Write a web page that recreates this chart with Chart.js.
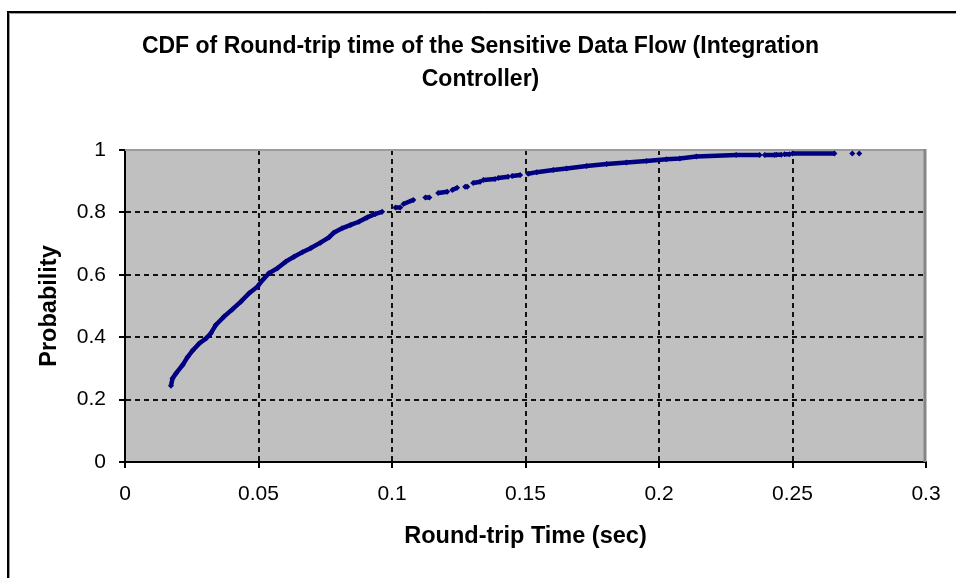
<!DOCTYPE html>
<html>
<head>
<meta charset="utf-8">
<title>CDF of Round-trip time</title>
<script src="https://cdn.jsdelivr.net/npm/chart.js@4/dist/chart.umd.min.js"></script>
<style>
  html, body { margin: 0; padding: 0; background: #fff; }
  #wrap { width: 956px; height: 578px; }
</style>
</head>
<body>
<div id="wrap"><canvas id="cdf" width="956" height="578"></canvas></div>
<script>
// Round-trip time samples (sec) and cumulative probability.
// A null entry lifts the pen: the sample runs are drawn as separate strokes.
const rtt = [
  0.0172, 0.0178, 0.0191, 0.0216, 0.0234, 0.0253, 0.0278, 0.0303, 0.0321, 0.0340,
  0.0371, 0.0402, 0.0434, 0.0465, 0.0496, 0.0515, 0.0539, 0.0571, 0.0602, 0.0633,
  0.0664, 0.0695, 0.0732, 0.0764, 0.0782, 0.0813, 0.0845, 0.0876, 0.0907, 0.0938, 0.0963,
  null,
  0.1013, 0.1031, null,
  0.1043, 0.1080, null,
  0.1125, 0.1140, null,
  0.1173, 0.1207, null,
  0.1226, 0.1244, null,
  0.1274, 0.1282, null,
  0.1304, 0.1330, null,
  0.1342, 0.1386, null,
  0.1398, 0.1435, null,
  0.1450, 0.1480, null,
  0.1510, 0.1542, 0.1604, 0.1654, 0.1729, 0.1804, 0.1878, 0.1953, 0.2028, 0.2078,
  0.2140, 0.2289, 0.2377, null,
  0.2396, 0.2433, null,
  0.2439, 0.2458, null,
  0.2470, 0.2489, null,
  0.2500, 0.2657, null,
  0.2724, null,
  0.2750
];
const prob = [
  0.244, 0.268, 0.284, 0.311, 0.336, 0.357, 0.380, 0.396, 0.412, 0.439,
  0.466, 0.489, 0.514, 0.541, 0.562, 0.583, 0.605, 0.621, 0.642, 0.658,
  0.672, 0.685, 0.703, 0.720, 0.735, 0.749, 0.760, 0.770, 0.784, 0.795, 0.802,
  null,
  0.816, 0.816, null,
  0.827, 0.840, null,
  0.848, 0.848, null,
  0.862, 0.866, null,
  0.872, 0.879, null,
  0.882, 0.882, null,
  0.894, 0.898, null,
  0.904, 0.907, null,
  0.910, 0.914, null,
  0.917, 0.920, null,
  0.924, 0.929, 0.936, 0.941, 0.949, 0.955, 0.960, 0.965, 0.970, 0.973,
  0.979, 0.984, 0.984, null,
  0.984, 0.984, null,
  0.985, 0.985, null,
  0.986, 0.986, null,
  0.989, 0.989, null,
  0.989, null,
  0.989
];

const xTickLabels = ['0', '0.05', '0.1', '0.15', '0.2', '0.25', '0.3'];
const yTickLabels = ['0', '0.2', '0.4', '0.6', '0.8', '1'];

const titleLines = ['CDF of Round-trip time of the Sensitive Data Flow (Integration', 'Controller)'];
const xTitle = 'Round-trip Time (sec)';
const yTitle = 'Probability';

const FAMILY = "'Liberation Sans', Arial, Helvetica, sans-serif";

const points = rtt.map((x, i) => ({ x: x, y: prob[i] }));

// White page, outer frame and grey plot area behind everything else
const backdrop = {
  id: 'backdrop',
  beforeDraw(chart) {
    const ctx = chart.ctx;
    const a = chart.chartArea;
    ctx.save();
    ctx.fillStyle = '#ffffff';
    ctx.fillRect(0, 0, chart.width, chart.height);
    ctx.lineWidth = 2;
    ctx.strokeStyle = '#000000';
    ctx.beginPath();
    ctx.moveTo(8, chart.height + 10);
    ctx.lineTo(8, 12);
    ctx.lineTo(chart.width + 10, 12);
    ctx.stroke();
    ctx.lineWidth = 1;
    ctx.strokeStyle = '#9a9a9a';
    ctx.beginPath();
    ctx.moveTo(9.5, chart.height + 10);
    ctx.lineTo(9.5, 13.5);
    ctx.lineTo(chart.width + 10, 13.5);
    ctx.stroke();
    ctx.fillStyle = '#c0c0c0';
    ctx.fillRect(a.left, a.top, a.right - a.left, a.bottom - a.top);
    ctx.restore();
  }
};

// Grey top and right edges of the plot area
const plotEdge = {
  id: 'plotEdge',
  beforeDatasetsDraw(chart) {
    const ctx = chart.ctx;
    const a = chart.chartArea;
    ctx.save();
    ctx.strokeStyle = '#9c9c9c';
    ctx.lineWidth = 2;
    ctx.beginPath();
    ctx.moveTo(a.left, a.top);
    ctx.lineTo(a.right, a.top);
    ctx.stroke();
    ctx.strokeStyle = '#858585';
    ctx.lineWidth = 3;
    ctx.beginPath();
    ctx.moveTo(a.right - 1, a.top - 1);
    ctx.lineTo(a.right - 1, a.bottom);
    ctx.stroke();
    ctx.restore();
  }
};

const innerGrid = (ctx) => {
  const n = ctx.scale.ticks.length;
  return (ctx.index === 0 || ctx.index === n - 1) ? 'rgba(0,0,0,0)' : '#111111';
};

new Chart(document.getElementById('cdf'), {
  type: 'scatter',
  data: {
    datasets: [{
      label: 'CDF',
      data: points,
      showLine: true,
      spanGaps: false,
      borderColor: '#000080',
      borderWidth: 4.5,
      borderCapStyle: 'butt',
      tension: 0,
      pointStyle: 'rectRot',
      pointRadius: 3,
      pointBackgroundColor: '#000080',
      pointBorderColor: '#000080',
      pointBorderWidth: 0
    }]
  },
  options: {
    responsive: false,
    animation: false,
    events: [],
    layout: { padding: { left: 35, right: 30, top: 0, bottom: 0 } },
    plugins: {
      legend: { display: false },
      tooltip: { enabled: false },
      title: {
        display: true,
        text: titleLines,
        color: '#000',
        font: { family: FAMILY, size: 23, weight: 'bold', lineHeight: 1.4 },
        padding: { top: 31, bottom: 54.6 }
      }
    },
    scales: {
      x: {
        type: 'linear',
        min: 0,
        max: 0.3,
        afterFit(scale) { scale.height = 116; },
        afterBuildTicks(scale) {
          scale.ticks = xTickLabels.map((t, i) => ({ value: i * 0.05 }));
        },
        ticks: {
          color: '#000',
          font: { family: FAMILY, size: 21 },
          padding: 14,
          maxRotation: 0,
          autoSkip: false,
          callback: (v, i) => xTickLabels[i]
        },
        grid: { color: innerGrid, tickColor: '#000', lineWidth: 2, tickLength: 6 },
        border: { display: true, color: '#000', width: 2, dash: [5, 4] },
        title: {
          display: true,
          text: xTitle,
          color: '#000',
          font: { family: FAMILY, size: 23.5, weight: 'bold' },
          padding: { top: 0, bottom: 27 }
        }
      },
      y: {
        type: 'linear',
        min: 0,
        max: 1,
        afterFit(scale) { scale.width = 90; },
        afterBuildTicks(scale) {
          scale.ticks = yTickLabels.map((t, i) => ({ value: i * 0.2 }));
        },
        ticks: {
          color: '#000',
          font: { family: FAMILY, size: 21 },
          padding: 13,
          autoSkip: false,
          callback: (v, i) => yTickLabels[i]
        },
        grid: { color: innerGrid, tickColor: '#000', lineWidth: 2, tickLength: 6 },
        border: { display: true, color: '#000', width: 2, dash: [5, 4] },
        title: {
          display: true,
          text: yTitle,
          color: '#000',
          font: { family: FAMILY, size: 23.5, weight: 'bold' },
          padding: { top: 0, bottom: 0 }
        }
      }
    }
  },
  plugins: [backdrop, plotEdge]
});
</script>
</body>
</html>
